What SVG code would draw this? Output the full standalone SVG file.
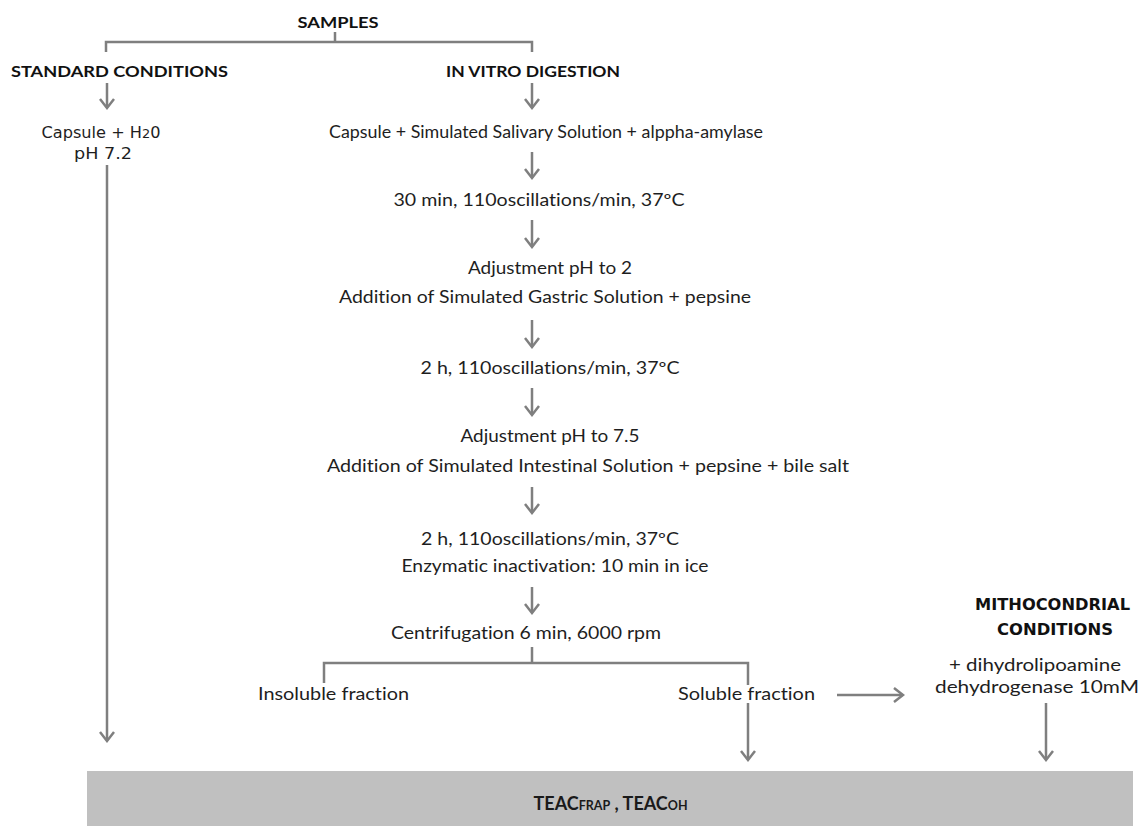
<svg xmlns="http://www.w3.org/2000/svg" width="1141" height="826" viewBox="0 0 1141 826">
<style>
text{font-variant-ligatures:none}
.t{font-family:Lato,"Open Sans","Liberation Sans",sans-serif;font-size:17px;fill:#1e1e1e;text-anchor:middle}
.b{font-family:Lato,"Liberation Sans",sans-serif;font-size:16px;font-weight:bold;fill:#111;text-anchor:middle}
.v{font-family:"DejaVu Sans",Verdana,sans-serif;font-size:15px;fill:#1e1e1e;text-anchor:middle}
.vb{font-family:"DejaVu Sans",Verdana,sans-serif;font-size:16px;font-weight:bold;fill:#111;text-anchor:middle}
.ln{stroke:#7f7f7f;stroke-width:2.5;fill:none}
.ar{stroke:#7f7f7f;stroke-width:2.5;fill:none;marker-end:url(#ah)}
</style>
<defs>
<marker id="ah" markerUnits="userSpaceOnUse" viewBox="-12 -10 14 20" markerWidth="14" markerHeight="20" refX="0" refY="0" orient="auto">
<path d="M-9,-7 L0,0 L-9,7" fill="none" stroke="#7f7f7f" stroke-width="2.5"/>
</marker>
</defs>
<rect width="1141" height="826" fill="#fff"/>

<g id="connectors">
<path class="ln" d="M335,32 V42 M106,52 V42 H532 V52"/>
<path class="ar" d="M107,83 V108"/>
<path class="ar" d="M532,83 V108"/>
<path class="ar" d="M107,165 V741"/>
<path class="ar" d="M532,152 V178"/>
<path class="ar" d="M532,220 V247"/>
<path class="ar" d="M532,320 V347"/>
<path class="ar" d="M532,388 V415"/>
<path class="ar" d="M532,487 V513"/>
<path class="ar" d="M532,587 V613"/>
<path class="ln" d="M532,647 V663 M324,683 V663 H748 V685"/>
<path class="ar" d="M748,703 V760"/>
<path class="ar" d="M837,695 H903"/>
<path class="ar" d="M1046,703 V760"/>
</g>

<g id="samples"><text class="b" x="338" y="28" textLength="81" lengthAdjust="spacingAndGlyphs">SAMPLES</text></g>
<g id="standard"><text class="b" x="119.5" y="77" textLength="217" lengthAdjust="spacingAndGlyphs">STANDARD CONDITIONS</text></g>
<g id="invitro"><text class="b" x="533" y="77" textLength="174" lengthAdjust="spacingAndGlyphs">IN VITRO DIGESTION</text></g>
<g id="capsule-h2o">
<text class="v" x="101" y="138" textLength="119" lengthAdjust="spacingAndGlyphs">Capsule + H<tspan font-size="12">2</tspan>0</text>
<text class="v" x="103" y="159" textLength="58" lengthAdjust="spacingAndGlyphs">pH 7.2</text>
</g>
<g id="salivary"><text class="t" x="546" y="138" textLength="434" lengthAdjust="spacingAndGlyphs">Capsule + Simulated Salivary Solution + alppha-amylase</text></g>
<g id="step30"><text class="t" x="539" y="206" textLength="291" lengthAdjust="spacingAndGlyphs">30 min, 110oscillations/min, 37ºC</text></g>
<g id="gastric">
<text class="t" x="550" y="274" textLength="164" lengthAdjust="spacingAndGlyphs">Adjustment pH to 2</text>
<text class="t" x="545" y="303" textLength="412" lengthAdjust="spacingAndGlyphs">Addition of Simulated Gastric Solution + pepsine</text>
</g>
<g id="step2h-a"><text class="t" x="550" y="374" textLength="259" lengthAdjust="spacingAndGlyphs">2 h, 110oscillations/min, 37ºC</text></g>
<g id="intestinal">
<text class="t" x="550" y="442" textLength="179" lengthAdjust="spacingAndGlyphs">Adjustment pH to 7.5</text>
<text class="t" x="588" y="472" textLength="522" lengthAdjust="spacingAndGlyphs">Addition of Simulated Intestinal Solution + pepsine + bile salt</text>
</g>
<g id="step2h-b">
<text class="t" x="550" y="545" textLength="258" lengthAdjust="spacingAndGlyphs">2 h, 110oscillations/min, 37ºC</text>
<text class="t" x="555" y="572" textLength="307" lengthAdjust="spacingAndGlyphs">Enzymatic inactivation: 10 min in ice</text>
</g>
<g id="centrifugation"><text class="t" x="526" y="639" textLength="270" lengthAdjust="spacingAndGlyphs">Centrifugation 6 min, 6000 rpm</text></g>
<g id="insoluble"><text class="t" x="333.5" y="700" textLength="151" lengthAdjust="spacingAndGlyphs">Insoluble fraction</text></g>
<g id="soluble"><text class="t" x="746.5" y="700" textLength="137" lengthAdjust="spacingAndGlyphs">Soluble fraction</text></g>
<g id="mitochondrial">
<text class="vb" x="1052.5" y="610" textLength="155" lengthAdjust="spacingAndGlyphs">MITHOCONDRIAL</text>
<text class="vb" x="1055" y="635" textLength="116" lengthAdjust="spacingAndGlyphs">CONDITIONS</text>
<text class="t" x="1035" y="671" textLength="172" lengthAdjust="spacingAndGlyphs">+ dihydrolipoamine</text>
<text class="t" x="1037" y="693" textLength="204" lengthAdjust="spacingAndGlyphs">dehydrogenase 10mM</text>
</g>
<g id="teac">
<rect x="87" y="771" width="1046" height="55" fill="#c0c0c0"/>
<text x="610.5" y="810" text-anchor="middle" font-family="Lato,'Liberation Sans',sans-serif" font-weight="bold" font-size="18" fill="#1a1a1a">TEAC<tspan font-size="12.5">FRAP</tspan> , TEAC<tspan font-size="12.5">OH</tspan></text>
</g>
</svg>
